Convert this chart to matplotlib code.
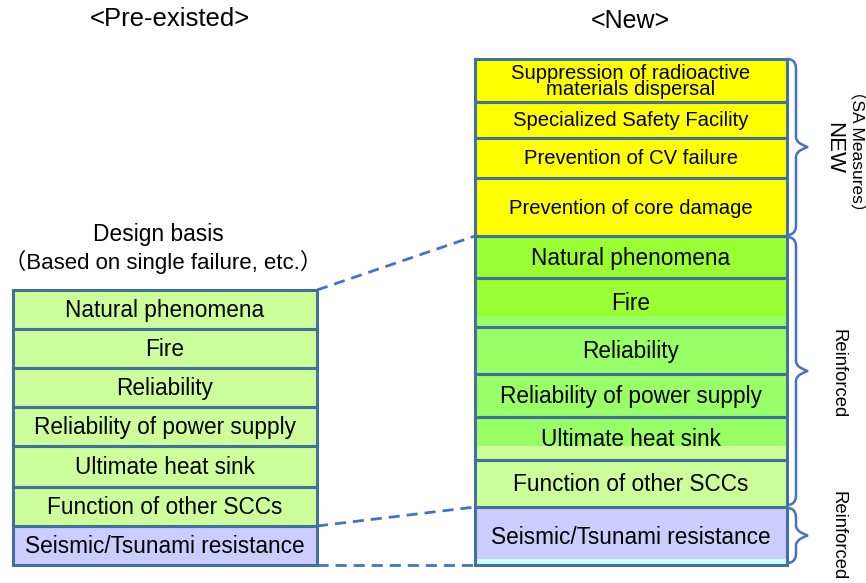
import matplotlib.pyplot as plt
from matplotlib.patches import Rectangle, PathPatch
from matplotlib.path import Path

plt.rcParams['font.family'] = ['Liberation Sans', 'Noto Sans CJK JP', 'DejaVu Sans']

# left column (pre-existed), boundaries in pixel rows
left_labels = ["Natural phenomena", "Fire", "Reliability", "Reliability of power supply",
               "Ultimate heat sink", "Function of other SCCs", "Seismic/Tsunami resistance"]
left_edges = [290, 329, 368, 407, 446, 487, 526, 565]
left_colors = ["#CCFF99"] * 6 + ["#CCCCFF"]

# right column (new)
right_labels = ["Suppression of radioactive\nmaterials dispersal", "Specialized Safety Facility",
                "Prevention of CV failure", "Prevention of core damage",
                "Natural phenomena", "Fire", "Reliability", "Reliability of power supply",
                "Ultimate heat sink", "Function of other SCCs", "Seismic/Tsunami resistance"]
right_edges = [59, 102, 138, 178, 236, 278, 327, 374, 417, 460, 507, 565]
right_colors = ["#FFFF00"] * 4 + ["#99FF33", "#99FF33", "#99FF66", "#99FF66",
                                  "#99FF66", "#CCFF99", "#CCCCFF"]
# lighter strips at bottom of some cells: (row index, strip height, colour)
strips = [(5, 11, "#99FF66"), (8, 14, "#CCFF99"), (10, 6, "#CCFFFF")]

edge_col = "#41719C"
blue = "#4472C4"

fig = plt.figure(figsize=(8.66, 5.83), dpi=100)
ax = fig.add_axes([0, 0, 1, 1])
ax.set_xlim(0, 866)
ax.set_ylim(583, 0)
ax.axis("off")


def column(x0, x1, edges, labels, colors, strip_list):
    for i, lab in enumerate(labels):
        y0, y1 = edges[i], edges[i + 1]
        ax.add_patch(Rectangle((x0, y0), x1 - x0, y1 - y0, facecolor=colors[i],
                               edgecolor="none", zorder=1))
        for (k, h, c) in strip_list:
            if k == i:
                ax.add_patch(Rectangle((x0, y1 - h), x1 - x0, h, facecolor=c,
                                       edgecolor="none", zorder=1))
        ax.add_patch(Rectangle((x0, y0), x1 - x0, y1 - y0, facecolor="none",
                               edgecolor=edge_col, linewidth=2.2, zorder=3))
        fs = 14.6 if colors[i] == "#FFFF00" else 16.3
        ls = 0.8 if "\n" in lab else 1.2
        ax.text((x0 + x1) / 2, (y0 + y1) / 2 + 1, lab, ha="center", va="center",
                fontsize=fs, linespacing=ls, zorder=4)


column(13, 317, left_edges, left_labels, left_colors, [])
column(475, 787, right_edges, right_labels, right_colors, strips)

# dashed connectors
for (ya, yb) in [(290, 236), (526, 507), (565, 565)]:
    ax.plot([317, 475], [ya, yb], linestyle=(0, (4, 2.5)), color=blue, linewidth=2, zorder=2)


def brace(x0, y0, y1, w=9, tip=21):
    ym = (y0 + y1) / 2
    xv = x0 + w
    verts = [(x0, y0), (xv, y0), (xv, y0 + 8), (xv, y0 + 10),
             (xv, ym - 10),
             (xv, ym - 3), (x0 + tip, ym), (x0 + tip, ym),
             (x0 + tip, ym), (xv, ym + 3), (xv, ym + 10),
             (xv, y1 - 10),
             (xv, y1 - 8), (xv, y1), (x0, y1)]
    codes = [Path.MOVETO, Path.CURVE4, Path.CURVE4, Path.CURVE4, Path.LINETO,
             Path.CURVE4, Path.CURVE4, Path.CURVE4,
             Path.CURVE4, Path.CURVE4, Path.CURVE4, Path.LINETO,
             Path.CURVE4, Path.CURVE4, Path.CURVE4]
    ax.add_patch(PathPatch(Path(verts, codes), facecolor="none", edgecolor=blue,
                           linewidth=1.8, zorder=5))


brace(787, 59, 235)
brace(787, 237, 505)
brace(787, 508, 563)

# side labels
ax.text(834, 148, "NEW", rotation=-90, ha="center", va="center", fontsize=16)
ax.text(857, 151, "（SA Measures）", rotation=-90, ha="center", va="center", fontsize=12.5)
ax.text(838, 374, "Reinforced", rotation=-90, ha="center", va="center", fontsize=13.3)
ax.text(838, 536, "Reinforced", rotation=-90, ha="center", va="center", fontsize=13.3)

# headings
ax.text(170, 19, "<Pre-existed>", ha="center", va="center", fontsize=18.5)
ax.text(630, 21, "<New>", ha="center", va="center", fontsize=18)
ax.text(158, 235, "Design basis", ha="center", va="center", fontsize=16.4)
ax.text(163, 262, "（Based on single failure, etc.）", ha="center", va="center", fontsize=16)

plt.savefig("out.png")
